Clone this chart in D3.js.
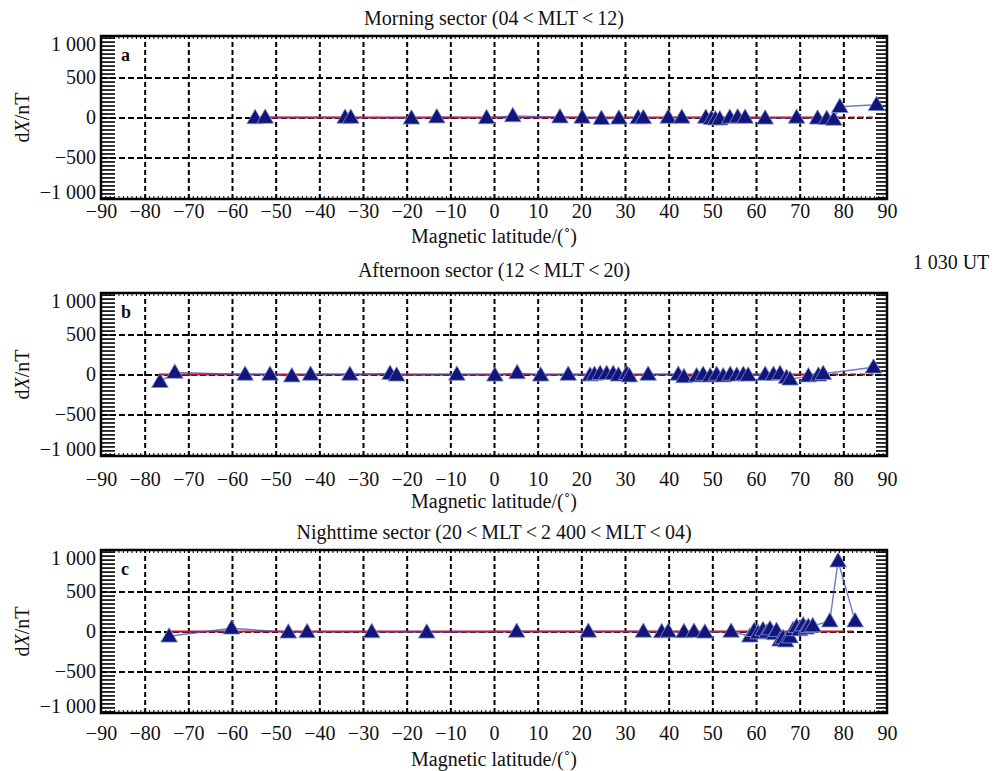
<!DOCTYPE html>
<html>
<head>
<meta charset="utf-8">
<script src="https://cdn.jsdelivr.net/npm/d3@7"></script>
<style>
  html, body { margin: 0; padding: 0; background: #ffffff; }
  svg { display: block; }
  svg text { font-family: "Liberation Serif", "Times New Roman", Times, "Nimbus Roman", "DejaVu Serif", serif; fill: #111; }
</style>
</head>
<body>
<svg id="chart" width="994" height="771"></svg>
<script>
// ---------------- data ----------------
const panelLetters = ["a", "b", "c"];
const panelTitles = [
  "Morning sector (04\u2009<\u2009MLT\u2009<\u200912)",
  "Afternoon sector (12\u2009<\u2009MLT\u2009<\u200920)",
  "Nighttime sector (20\u2009<\u2009MLT\u2009<\u20092 400\u2009<\u2009MLT\u2009<\u200904)"
];
const xTicks = [-90, -80, -70, -60, -50, -40, -30, -20, -10, 0, 10, 20, 30, 40, 50, 60, 70, 80, 90];
const yTicks = [-1000, -500, 0, 500, 1000];
const timeLabel = "1 030 UT";

// Panel a: morning sector
const latA = [-54.7, -52.4, -34.1, -32.8, -18.9, -13.1, -1.7, 4.3, 15.1, 20.2, 24.6, 28.6, 33.0, 34.2,
  39.9, 43.0, 48.5, 49.8, 50.7, 51.7, 54.0, 55.8, 57.5, 62.1, 69.3, 74.1, 76.2, 77.8, 79.2, 87.6];
const dxA = [-5, 0, 0, 0, -10, 5, -5, 20, 5, 0, -15, -10, -5, -5,
  0, 0, 0, -15, -20, -20, 0, 5, 0, -10, 0, -10, -15, -25, 135, 160];

// Panel b: afternoon sector
const latB = [-76.5, -73.1, -57.0, -51.3, -46.3, -42.0, -33.0, -23.8, -22.3, -8.5, 0.2, 5.3, 10.7, 17.0,
  22.0, 23.0, 24.3, 25.8, 27.3, 28.5, 30.4, 31.0, 35.3, 42.2, 43.5, 46.4, 47.9, 49.5, 51.0, 52.5,
  54.1, 55.6, 57.1, 58.2, 62.1, 64.0, 65.5, 67.0, 67.8, 72.0, 74.3, 75.4, 86.9];
const dxB = [-90, 25, 0, 0, -20, 0, 0, 10, -10, 0, -10, 20, -10, 0,
  -10, 0, 10, 10, 10, -10, 10, -20, 0, 0, -30, -20, 0, -20, 0, -20,
  0, -10, 0, -10, 0, 0, 10, -40, -60, -20, -10, 10, 90];

// Panel c: nighttime sector
const latC = [-74.4, -60.1, -47.1, -42.8, -28.0, -15.4, 5.2, 21.6, 34.2, 38.4, 39.9, 43.5, 45.8, 48.3,
  54.3, 58.6, 59.6, 60.5, 61.6, 62.5, 63.2, 64.2, 64.7, 65.5, 66.2, 66.8, 67.8, 68.5, 69.3, 70.0,
  70.8, 71.5, 72.0, 73.0, 76.9, 78.8, 82.7];
const dxC = [-60, 40, -10, -5, -5, -10, 0, 0, 0, -5, 0, -5, 0, -10,
  0, -60, 10, -20, 20, -10, 30, -30, 10, -110, -80, -120, -70, 20, 60, 20,
  80, 40, 60, 70, 130, 880, 130];

const lats = [latA, latB, latC];
const dxs = [dxA, dxB, dxC];

// ---------------- layout ----------------
const FONT = "'Liberation Serif', 'Times New Roman', Times, 'Nimbus Roman', 'DejaVu Serif', serif";
const FS = 20;
const plotLeft = 101, plotRight = 887;
const layout = [
  { top: 36,  bottom: 199, titleY: 20,  tickPad: 5,  xTitleY: 238 },
  { top: 293, bottom: 456, titleY: 272, tickPad: 16, xTitleY: 503 },
  { top: 550, bottom: 713, titleY: 534, tickPad: 13, xTitleY: 761 }
];

const svg = d3.select("#chart");
const fmt = d3.formatLocale({ decimal: ".", thousands: " ", grouping: [3], currency: ["", ""], minus: "\u2212" }).format(",");

const x = d3.scaleLinear().domain([-90, 90]).range([plotLeft, plotRight]);

layout.forEach((L, i) => {
  const y = d3.scaleLinear().domain([-1020, 1020]).range([L.bottom, L.top]);
  const g = svg.append("g");
  const pw = plotRight - plotLeft, ph = L.bottom - L.top;

  // vertical grid
  g.append("g")
    .attr("transform", `translate(0,${L.bottom})`)
    .call(d3.axisBottom(x).tickValues(xTicks.filter(t => t > -90 && t < 90)).tickSize(-ph).tickFormat(""))
    .call(s => s.select(".domain").remove())
    .call(s => s.selectAll("line").attr("stroke", "#000").attr("stroke-width", 2).attr("stroke-dasharray", "5,3"));
  // horizontal grid
  g.append("g")
    .attr("transform", `translate(${plotLeft},0)`)
    .call(d3.axisLeft(y).tickValues([-500, 0, 500]).tickSize(-pw).tickFormat(""))
    .call(s => s.select(".domain").remove())
    .call(s => s.selectAll("line").attr("stroke", "#000").attr("stroke-width", 2).attr("stroke-dasharray", "6,3"));

  // minor ticks left (inward comb)
  g.append("g")
    .attr("transform", `translate(${plotLeft},0)`)
    .call(d3.axisLeft(y).tickValues(d3.range(-1000, 1001, 50)).tickSize(-14).tickFormat(""))
    .call(s => s.select(".domain").remove())
    .call(s => s.selectAll("line").attr("stroke", "#000").attr("stroke-width", 1.6));
  // minor ticks right
  g.append("g")
    .attr("transform", `translate(${plotRight},0)`)
    .call(d3.axisRight(y).tickValues(d3.range(-1000, 1001, 50)).tickSize(-11).tickFormat(""))
    .call(s => s.select(".domain").remove())
    .call(s => s.selectAll("line").attr("stroke", "#000").attr("stroke-width", 1.6));
  // minor ticks top/bottom every degree
  g.append("g")
    .attr("transform", `translate(0,${L.bottom})`)
    .call(d3.axisBottom(x).tickValues(d3.range(-89, 90, 1)).tickSize(-3).tickFormat(""))
    .call(s => s.select(".domain").remove())
    .call(s => s.selectAll("line").attr("stroke", "#000").attr("stroke-width", 1));
  g.append("g")
    .attr("transform", `translate(0,${L.top})`)
    .call(d3.axisTop(x).tickValues(d3.range(-89, 90, 1)).tickSize(-3).tickFormat(""))
    .call(s => s.select(".domain").remove())
    .call(s => s.selectAll("line").attr("stroke", "#000").attr("stroke-width", 1));

  // data
  const lat = lats[i], dx = dxs[i];
  const pts = lat.map((v, k) => ({ lat: v, dx: dx[k] }));
  const n = pts.length;

  // red reference line at 0
  const redLine = d3.line().x(d => x(d.lat)).y(() => y(0));
  g.append("path").datum(pts.slice(0, n - 1))
    .attr("d", redLine).attr("fill", "none")
    .attr("stroke", "#c4122a").attr("stroke-width", 2);
  g.append("path").datum(pts.slice(n - 2))
    .attr("d", redLine).attr("fill", "none")
    .attr("stroke", "#8a1a1a").attr("stroke-width", 2).attr("stroke-dasharray", "6,3");

  // blue connecting line
  g.append("path").datum(pts)
    .attr("d", d3.line().x(d => x(d.lat)).y(d => y(d.dx)))
    .attr("fill", "none").attr("stroke", "#3a4fb8").attr("stroke-opacity", 0.75).attr("stroke-width", 1.4);

  // triangles
  const tri = d3.symbol().type(d3.symbolTriangle).size(120);
  g.selectAll("path.tri").data(pts).join("path")
    .attr("class", "tri")
    .attr("transform", d => `translate(${x(d.lat)},${y(d.dx) + 1})`)
    .attr("d", tri)
    .attr("fill", "#12167a")
    .attr("stroke", "#7f8fd0").attr("stroke-width", 0.8);

  // frame
  g.append("rect")
    .attr("x", plotLeft).attr("y", L.top).attr("width", pw).attr("height", ph)
    .attr("fill", "none").attr("stroke", "#000").attr("stroke-width", 2.5);

  // x tick labels
  g.append("g")
    .attr("transform", `translate(0,${L.bottom})`)
    .call(d3.axisBottom(x).tickValues(xTicks).tickSize(0).tickPadding(L.tickPad).tickFormat(fmt))
    .attr("font-family", FONT).attr("font-size", FS)
    .call(s => s.select(".domain").remove())
    .call(s => s.selectAll("text").attr("fill", "#111"));
  // y tick labels (end labels pulled inward, as in the reference)
  g.append("g")
    .attr("transform", `translate(${plotLeft},0)`)
    .call(d3.axisLeft(y).tickValues(yTicks).tickSize(0).tickPadding(5).tickFormat(fmt))
    .attr("font-family", FONT).attr("font-size", FS)
    .call(s => s.select(".domain").remove())
    .call(s => s.selectAll("text").attr("fill", "#111")
      .attr("y", d => d === 1000 ? 6 : d === -1000 ? -5 : 0));

  // titles
  svg.append("text").attr("x", (plotLeft + plotRight) / 2).attr("y", L.titleY)
    .attr("text-anchor", "middle").attr("dominant-baseline", "middle")
    .attr("font-size", FS).text(panelTitles[i]);
  svg.append("text").attr("x", (plotLeft + plotRight) / 2).attr("y", L.xTitleY)
    .attr("text-anchor", "middle").attr("dominant-baseline", "middle")
    .attr("font-size", FS).text("Magnetic latitude/(\u02DA)");
  // panel letter
  svg.append("text").attr("x", plotLeft + 20).attr("y", L.top + 21)
    .attr("dominant-baseline", "middle")
    .attr("font-size", 18).attr("font-weight", "bold").text(panelLetters[i]);
  // y title
  const yt = svg.append("text")
    .attr("transform", `translate(24,${(L.top + L.bottom) / 2}) rotate(-90)`)
    .attr("text-anchor", "middle").attr("dominant-baseline", "middle")
    .attr("font-size", FS);
  yt.append("tspan").text("d");
  yt.append("tspan").attr("font-style", "italic").text("X");
  yt.append("tspan").text("/nT");
});

svg.append("text").attr("x", 951).attr("y", 264)
  .attr("text-anchor", "middle").attr("dominant-baseline", "middle")
  .attr("font-size", FS).text(timeLabel);
</script>
</body>
</html>
